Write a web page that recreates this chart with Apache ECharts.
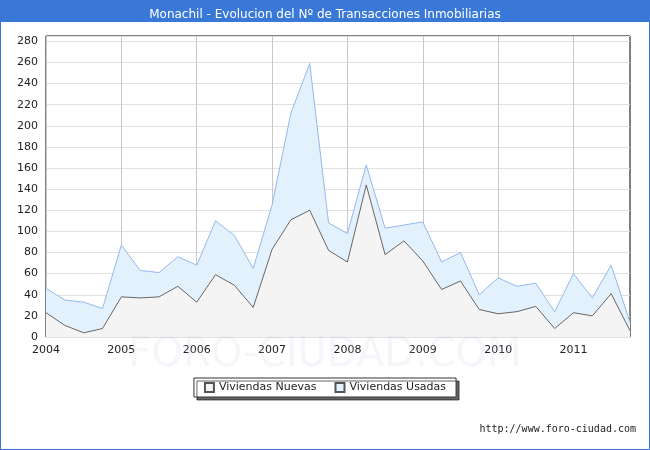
<!DOCTYPE html>
<html>
<head>
<meta charset="utf-8">
<script src="https://cdn.jsdelivr.net/npm/echarts@6/dist/echarts.min.js"></script>
<style>
  html, body { margin: 0; padding: 0; }
  #chart { width: 650px; height: 450px; box-sizing: border-box; border: 1px solid #3a78d8; }
</style>
</head>
<body>
<div id="chart"></div>
<script>
// quarterly data 2004Q1 .. 2011Q4
const years = [2004, 2005, 2006, 2007, 2008, 2009, 2010, 2011];
const quarters = [];
years.forEach(y => { for (let q = 0; q < 4; q++) quarters.push(q === 0 ? String(y) : ""); });

const nuevas = [23, 11, 4, 8, 38, 37, 38, 48, 33, 59, 49, 28, 83, 111, 120, 82,
                71, 144, 78, 91, 72, 45, 53, 26, 22, 24, 29, 8, 23, 20, 41, 6];
const usadas = [23, 24, 29, 19, 49, 26, 23, 28, 35, 51, 47, 37, 42, 101, 139, 26,
                27, 19, 25, 15, 37, 26, 27, 14, 34, 24, 22, 16, 37, 17, 27, 8];

const chart = echarts.init(document.getElementById("chart"));

chart.setOption({
    animation: false,
    title: [
        {
            text: "Monachil - Evolucion del Nº de Transacciones Inmobiliarias",
            left: "center", top: 3,
            textStyle: { color: "#fff", fontSize: 12, fontWeight: "normal", fontFamily: "DejaVu Sans" }
        },
        {
            text: "http://www.foro-ciudad.com",
            right: 8, bottom: 10,
            textStyle: { color: "#222", fontSize: 10, fontWeight: "normal", fontFamily: "DejaVu Sans Mono" }
        },
        {
            text: "FORO-CIUDAD.COM",
            left: "center", top: 330,
            textStyle: { color: "rgba(200,205,230,0.18)", fontSize: 40, fontWeight: "normal", fontFamily: "DejaVu Sans" }
        }
    ],
    graphic: [{
        type: "rect", left: 0, top: 0, z: -1,
        shape: { width: 650, height: 21 },
        style: { fill: "#3a78d8" }
    }],
    legend: {
        data: ["Viviendas Nuevas", "Viviendas Usadas"],
        top: 377, left: "center",
        icon: "rect", itemWidth: 9, itemHeight: 9, itemGap: 18,
        borderColor: "#333", borderWidth: 1, padding: [4, 10],
        shadowColor: "rgba(0,0,0,0.6)", shadowOffsetX: 3, shadowOffsetY: 3, shadowBlur: 0,
        backgroundColor: "#fff",
        textStyle: { fontSize: 11, fontFamily: "DejaVu Sans", color: "#222" }
    },
    grid: { left: 45, right: 19, top: 35, bottom: 112, show: true, borderColor: "#000", borderWidth: 1 },
    xAxis: {
        type: "category",
        data: quarters,
        boundaryGap: false,
        axisLine: { show: false },
        axisTick: { show: false },
        axisLabel: { interval: 3, color: "#222", fontSize: 11, fontFamily: "DejaVu Sans", margin: 8 },
        splitLine: { show: true, interval: 3, lineStyle: { color: "#c8c8c8" } }
    },
    yAxis: {
        type: "value",
        min: 0, max: 285, interval: 20,
        axisLine: { show: false },
        axisTick: { show: false },
        axisLabel: { color: "#222", fontSize: 11, fontFamily: "DejaVu Sans", showMaxLabel: false },
        splitLine: { lineStyle: { color: "#e0e0e0" } }
    },
    series: [
        {
            name: "Viviendas Nuevas", type: "line", stack: "t", data: nuevas,
            symbol: "none",
            lineStyle: { color: "#666", width: 1 },
            itemStyle: { color: "#f4f4f4", borderColor: "#555", borderWidth: 1 },
            areaStyle: { color: "#f4f4f4", opacity: 1 }
        },
        {
            name: "Viviendas Usadas", type: "line", stack: "t", data: usadas,
            symbol: "none",
            lineStyle: { color: "#94b8ec", width: 1 },
            itemStyle: { color: "#e3f1fd", borderColor: "#555", borderWidth: 1 },
            areaStyle: { color: "#e3f1fd", opacity: 1 }
        }
    ]
});
</script>
</body>
</html>
